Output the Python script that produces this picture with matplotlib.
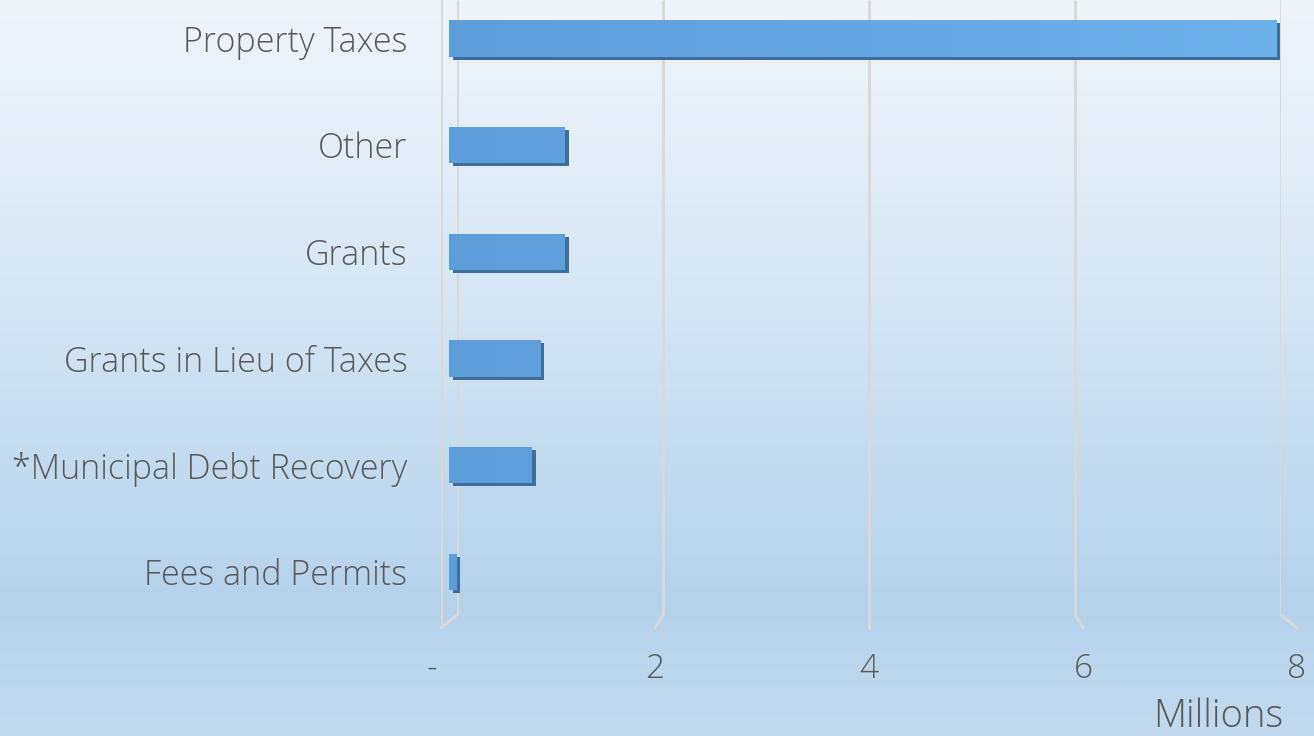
import matplotlib
matplotlib.use('Agg')
import matplotlib.pyplot as plt
import numpy as np
from matplotlib.colors import LinearSegmentedColormap
from matplotlib.transforms import offset_copy
from matplotlib.lines import Line2D

# ---- data ----
categories = ['Fees and Permits', '*Municipal Debt Recovery', 'Grants in Lieu of Taxes',
              'Grants', 'Other', 'Property Taxes']
values = [0.07, 0.79, 0.87, 1.10, 1.10, 7.88]
tick_vals = [0, 2, 4, 6, 8]
tick_labels = ['-  ', '2', '4', '6', '8']
unit_label = 'Millions'

FONT = ['Open Sans', 'DejaVu Sans']
TXT = '#595959'
GRID = '#d9d9d9'

W, H = 1314, 736
fig = plt.figure(figsize=(W / 100, H / 100), dpi=100)

# ---- background gradient ----
bg = fig.add_axes([0, 0, 1, 1], zorder=-10)
bg.set_axis_off()
bg_cmap = LinearSegmentedColormap.from_list('bg', [
    (0.0, '#f0f5fb'), (0.4, '#d6e6f4'), (0.82, '#b5d2eb'), (1.0, '#c3daee')])
bg.imshow(np.linspace(0, 1, 256).reshape(-1, 1), aspect='auto', cmap=bg_cmap,
          extent=[0, 1, 1, 0])
bg.set_xlim(0, 1)
bg.set_ylim(1, 0)


def px_axes(left, right, bottom, top=0):
    # pixel box -> figure fraction
    return fig.add_axes([left / W, (H - bottom) / H, (right - left) / W, (bottom - top) / H])


# back wall, front floor edge, and the bar plane in between
ax_back = px_axes(457, 1281, 615)
ax_front = px_axes(441, 1297, 628)
ax = px_axes(449, 1289, 628)
for a in (ax_back, ax_front, ax):
    a.set_xlim(0, 8)
    a.patch.set_alpha(0)
    for s in a.spines.values():
        s.set_visible(False)
ax_back.set_ylim(0, 1)
ax_front.set_ylim(0, 1)
ax_back.set_xticks([])
ax_back.set_yticks([])

# ---- gridlines (3D wall) ----
for v in tick_vals:
    ax_back.axvline(v, color=GRID, lw=2.2, solid_capstyle='butt')
    p1 = ax_back.transData.transform((v, 0))
    p2 = ax_front.transData.transform((v, 0))
    fig.add_artist(Line2D([p1[0], p2[0]], [p1[1], p2[1]], transform=None,
                          color=GRID, lw=2.2, solid_capstyle='round'))
ax_front.axvline(0, color=GRID, lw=2.2)

# ---- x ticks on the front edge ----
ax_front.set_xticks(tick_vals)
ax_front.set_xticklabels(tick_labels, fontsize=24, color=TXT, family=FONT,
                         fontweight='light')
ax_front.tick_params(axis='x', length=0, pad=18)
ax_front.set_yticks([])

# ---- bars ----
y = np.arange(len(categories))
ax.set_ylim(-0.525, 5.36)
h = 0.34
shade = offset_copy(ax.transData, fig=fig, x=4, y=-3, units='dots')
ax.barh(y, values, height=h, color='#3e6e9c', transform=shade, zorder=2)
bars = ax.barh(y, values, height=h, color='#62a2df', zorder=3)
face_cmap = LinearSegmentedColormap.from_list('face', ['#5d9dda', '#6db1eb'])
for b in bars:
    im = ax.imshow(np.linspace(0, 1, 256).reshape(1, -1), cmap=face_cmap, aspect='auto',
                   extent=[0, 8, b.get_y(), b.get_y() + b.get_height()], zorder=4)
    im.set_clip_path(b)
ax.set_xlim(0, 8)
ax.set_ylim(-0.525, 5.36)

ax.set_xticks([])
ax.set_yticks(y)
ax.set_yticklabels(categories, fontsize=24.5, color=TXT, family=FONT, fontweight='light')
ax.tick_params(axis='y', length=0, pad=30)

fig.text(1283 / W, 0, unit_label, ha='right', va='bottom', fontsize=27.5,
         color=TXT, family=FONT, fontweight='light')

fig.savefig('out.png', dpi=100)
